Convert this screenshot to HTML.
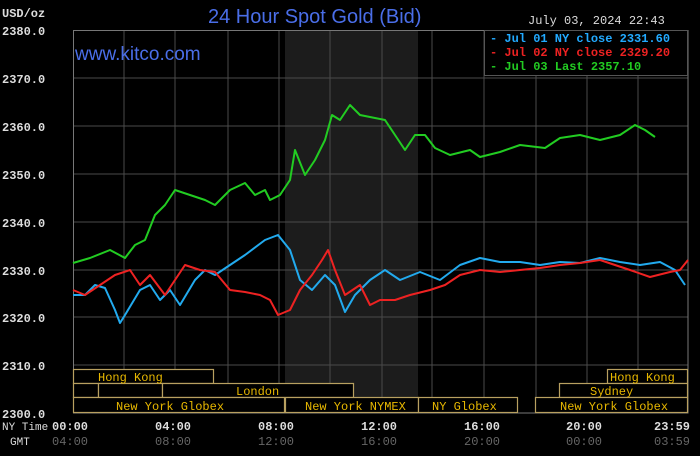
<!DOCTYPE html><html><head><style>body{margin:0;background:#000}svg{display:block}text{font-family:"Liberation Mono",monospace}</style></head><body>
<svg width="700" height="456" viewBox="0 0 700 456" xmlns="http://www.w3.org/2000/svg">
<rect width="700" height="456" fill="#000"/>
<rect x="285" y="30" width="133" height="383" fill="#1c1c1c"/>
<g stroke="#4a4a4a" stroke-width="1">
<line x1="124" y1="30" x2="124" y2="413"/><line x1="175" y1="30" x2="175" y2="413"/><line x1="228" y1="30" x2="228" y2="413"/><line x1="279" y1="30" x2="279" y2="413"/><line x1="330" y1="30" x2="330" y2="413"/><line x1="382" y1="30" x2="382" y2="413"/><line x1="432" y1="30" x2="432" y2="413"/><line x1="484" y1="30" x2="484" y2="413"/><line x1="536" y1="30" x2="536" y2="413"/><line x1="587" y1="30" x2="587" y2="413"/><line x1="638" y1="30" x2="638" y2="413"/>
<line x1="73" y1="78" x2="688" y2="78"/><line x1="73" y1="126" x2="688" y2="126"/><line x1="73" y1="174" x2="688" y2="174"/><line x1="73" y1="222" x2="688" y2="222"/><line x1="73" y1="270" x2="688" y2="270"/><line x1="73" y1="317" x2="688" y2="317"/><line x1="73" y1="365" x2="688" y2="365"/>
</g>
<rect x="73.5" y="30.5" width="614.5" height="382.5" fill="none" stroke="#777"/>
<g font-size="12" fill="#ddd" font-weight="bold">
<text x="2" y="17">USD/oz</text>
<text x="2" y="35">2380.0</text><text x="2" y="83">2370.0</text><text x="2" y="131">2360.0</text><text x="2" y="179">2350.0</text><text x="2" y="227">2340.0</text><text x="2" y="275">2330.0</text><text x="2" y="322">2320.0</text><text x="2" y="370">2310.0</text><text x="2" y="418">2300.0</text>
</g>
<text x="528" y="24" font-size="12" fill="#ddd">July 03, 2024 22:43</text>
<text x="208" y="23" style="font-family:'Liberation Sans',sans-serif" font-size="20" fill="#4a6ee8">24 Hour Spot Gold (Bid)</text>
<text x="75" y="60" style="font-family:'Liberation Sans',sans-serif" font-size="19" fill="#4a6ee8">www.kitco.com</text>
<rect x="484.5" y="30.5" width="203" height="45" fill="#000" stroke="#555"/>
<g font-size="12" font-weight="bold">
<text x="490" y="42" fill="#22aaff">- Jul 01 NY close 2331.60</text>
<text x="490" y="56" fill="#ee2222">- Jul 02 NY close 2329.20</text>
<text x="490" y="70" fill="#22cc22">- Jul 03 Last 2357.10</text>
</g>
<g fill="#000" stroke="#b8a060" stroke-width="1.2">
<rect x="73.5" y="369.5" width="140" height="14"/><rect x="607.5" y="369.5" width="80" height="14"/>
<rect x="73.5" y="383.5" width="25" height="14"/><rect x="98.5" y="383.5" width="64" height="14"/><rect x="162.5" y="383.5" width="191" height="14"/><rect x="559.5" y="383.5" width="128" height="14"/>
<rect x="73.5" y="397.5" width="211" height="15"/><rect x="285.5" y="397.5" width="133" height="15"/><rect x="418.5" y="397.5" width="99" height="15"/><rect x="535.5" y="397.5" width="152" height="15"/>
</g>
<g font-size="12" fill="#e8b800">
<text x="98" y="381">Hong Kong</text><text x="610" y="381">Hong Kong</text>
<text x="236" y="395">London</text><text x="590" y="395">Sydney</text>
<text x="116" y="410">New York Globex</text><text x="305" y="410">New York NYMEX</text><text x="432" y="410">NY Globex</text><text x="560" y="410">New York Globex</text>
</g>
<g font-size="12" fill="#ddd" font-weight="bold">
<text x="2" y="430" font-weight="normal" font-size="11">NY Time</text><text x="52" y="430">00:00</text><text x="155" y="430">04:00</text><text x="258" y="430">08:00</text><text x="361" y="430">12:00</text><text x="464" y="430">16:00</text><text x="566" y="430">20:00</text><text x="654" y="430">23:59</text>
<text x="10" y="445" font-weight="normal" font-size="11">GMT</text>
</g>
<g font-size="12" fill="#666">
<text x="52" y="445">04:00</text><text x="155" y="445">08:00</text><text x="258" y="445">12:00</text><text x="361" y="445">16:00</text><text x="464" y="445">20:00</text><text x="566" y="445">00:00</text><text x="654" y="445">03:59</text>
</g>
<polyline fill="none" stroke="#22aaee" stroke-width="2" stroke-linejoin="round" points="73,295 85,295 95,285 105,288 115,310 120,323 125,315 140,290 150,285 160,300 170,290 180,305 195,280 205,270 215,275 230,265 245,255 265,240 278,235 290,250 300,280 312,290 325,275 335,285 345,312 355,295 370,280 385,270 400,280 420,272 440,280 460,265 480,258 500,262 520,262 540,265 560,262 580,263 600,258 620,262 640,265 660,262 675,270 685,285"/>
<polyline fill="none" stroke="#ee2222" stroke-width="2" stroke-linejoin="round" points="73,290 85,295 100,285 115,275 130,270 140,285 150,275 165,295 175,280 185,265 200,270 215,272 230,290 245,292 260,295 270,300 278,315 290,310 300,290 312,275 322,260 328,250 335,270 345,295 360,285 370,305 380,300 395,300 410,295 430,290 445,285 460,275 480,270 500,272 520,270 540,268 560,265 580,263 600,260 615,265 630,270 650,277 670,272 680,270 688,260"/>
<polyline fill="none" stroke="#22cc22" stroke-width="2" stroke-linejoin="round" points="73,263 90,258 110,250 125,258 135,245 145,240 155,215 165,205 175,190 190,195 205,200 215,205 230,190 245,183 255,195 265,190 270,200 280,195 290,180 295,150 305,175 315,160 325,140 332,115 340,120 350,105 360,115 375,118 385,120 395,135 405,150 415,135 425,135 435,148 450,155 470,150 480,157 500,152 520,145 545,148 560,138 580,135 600,140 620,135 635,125 645,130 655,137"/>
</svg>
</body></html>
